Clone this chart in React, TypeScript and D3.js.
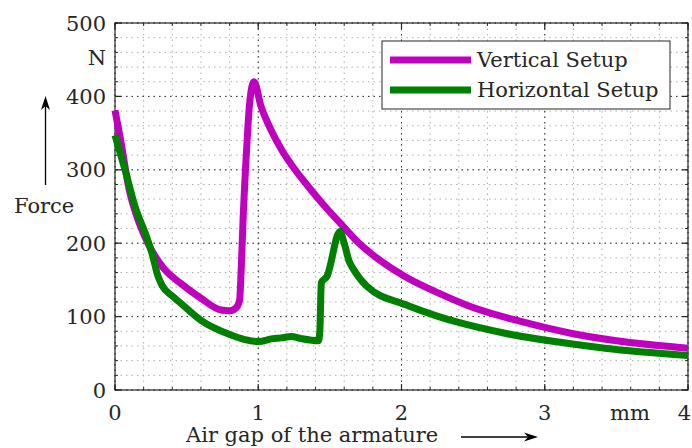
import React from "react";
import * as d3 from "d3";

const vertX = [0, 0.035, 0.1, 0.17, 0.23, 0.33, 0.46, 0.6, 0.74, 0.8, 0.845, 0.87, 0.88, 0.894, 0.917, 0.94, 0.97, 1.02, 1.09, 1.164, 1.257, 1.35, 1.466, 1.583, 1.72, 1.8, 2.03, 2.26, 2.49, 2.84, 3.19, 3.54, 4.0];
const vertF = [381, 345, 272, 227, 200, 168, 145, 125, 109, 108, 112, 123, 160, 232, 322, 391, 420, 386, 354, 327, 300, 277, 250, 225, 197, 184, 154, 132, 113, 93, 77, 66, 57];

const horzX = [0, 0.07, 0.14, 0.22, 0.26, 0.3, 0.33, 0.4, 0.46, 0.6, 0.81, 0.9, 1.0, 1.1, 1.16, 1.23, 1.3, 1.42, 1.43, 1.44, 1.48, 1.57, 1.6, 1.635, 1.66, 1.76, 2.03, 2.26, 2.38, 2.73, 3.07, 3.42, 4.0];
const horzF = [347, 300, 250, 209, 185, 155, 142, 128, 118, 95, 75, 69, 66, 70, 71, 73, 70, 67, 80, 146, 155, 216, 200, 175, 166, 141, 116, 100, 93, 77, 66, 57, 47];

const xTicks = [0, 1, 2, 3, 4];
const yTicks = [0, 100, 200, 300, 400, 500];
const seriesNames = ["Vertical Setup", "Horizontal Setup"];
const seriesColors = ["#bf00bf", "#008000"];

const W = 692, H = 448;
const L = 115, R = 688, T = 23, B = 390;
const FONT = "DejaVu Serif";
const TXT = "#262626";

export default function App() {
  const x = d3.scaleLinear().domain([0, 4]).range([L, R]);
  const y = d3.scaleLinear().domain([0, 500]).range([B, T]);
  const minorX = d3.range(0, 4.0001, 0.2);
  const minorY = d3.range(0, 500.001, 20);
  const line = d3.line<[number, number]>().x(d => x(d[0])).y(d => y(d[1])).curve(d3.curveMonotoneX);
  const vData = vertX.map((v, i) => [v, vertF[i]] as [number, number]);
  const hData = horzX.map((v, i) => [v, horzF[i]] as [number, number]);

  return (
    <svg width={W} height={H} style={{ position: "absolute", left: 0, top: 0, background: "#fff" }}>
      <rect x={0} y={0} width={W} height={H} fill="#fff" />
      {/* minor grid */}
      {minorX.map((v, i) => (
        <line key={"mx" + i} x1={x(v)} x2={x(v)} y1={T} y2={B} stroke="#b0b0b0" strokeWidth={1} strokeDasharray="1.5,4" />
      ))}
      {minorY.map((v, i) => (
        <line key={"my" + i} x1={L} x2={R} y1={y(v)} y2={y(v)} stroke="#b0b0b0" strokeWidth={1} strokeDasharray="1.5,4" />
      ))}
      {/* major grid */}
      {xTicks.map((v, i) => (
        <line key={"gx" + i} x1={x(v)} x2={x(v)} y1={T} y2={B} stroke="#333" strokeWidth={1} strokeDasharray="1.5,4" />
      ))}
      {yTicks.map((v, i) => (
        <line key={"gy" + i} x1={L} x2={R} y1={y(v)} y2={y(v)} stroke="#333" strokeWidth={1} strokeDasharray="1.5,4" />
      ))}
      {/* box */}
      <rect x={L} y={T} width={R - L} height={B - T} fill="none" stroke={TXT} strokeWidth={1.2} />
      {/* minor ticks */}
      {minorX.map((v, i) => (
        <g key={"tmx" + i}>
          <line x1={x(v)} x2={x(v)} y1={B} y2={B - 3} stroke={TXT} />
          <line x1={x(v)} x2={x(v)} y1={T} y2={T + 3} stroke={TXT} />
        </g>
      ))}
      {minorY.map((v, i) => (
        <g key={"tmy" + i}>
          <line x1={L} x2={L + 3} y1={y(v)} y2={y(v)} stroke={TXT} />
          <line x1={R} x2={R - 3} y1={y(v)} y2={y(v)} stroke={TXT} />
        </g>
      ))}
      {/* major ticks */}
      {xTicks.map((v, i) => (
        <g key={"tx" + i}>
          <line x1={x(v)} x2={x(v)} y1={B} y2={B - 6} stroke={TXT} strokeWidth={1.2} />
          <line x1={x(v)} x2={x(v)} y1={T} y2={T + 6} stroke={TXT} strokeWidth={1.2} />
        </g>
      ))}
      {yTicks.map((v, i) => (
        <g key={"ty" + i}>
          <line x1={L} x2={L + 6} y1={y(v)} y2={y(v)} stroke={TXT} strokeWidth={1.2} />
          <line x1={R} x2={R - 6} y1={y(v)} y2={y(v)} stroke={TXT} strokeWidth={1.2} />
        </g>
      ))}
      {/* curves */}
      <path d={line(vData) || ""} fill="none" stroke={seriesColors[0]} strokeWidth={7} strokeLinejoin="round" />
      <path d={line(hData) || ""} fill="none" stroke={seriesColors[1]} strokeWidth={7} strokeLinejoin="round" />
      {/* tick labels */}
      {xTicks.map((v, i) => (
        <text key={"lx" + i} x={i === xTicks.length - 1 ? 691 : x(v)} y={420} textAnchor={i === xTicks.length - 1 ? "end" : "middle"} fontFamily={FONT} fontSize={21} fill={TXT}>{v}</text>
      ))}
      {yTicks.map((v, i) => (
        <text key={"ly" + i} x={106} y={y(v) + 7.5} textAnchor="end" fontFamily={FONT} fontSize={21} fill={TXT}>{v}</text>
      ))}
      {/* units */}
      <text x={630} y={420} textAnchor="middle" fontFamily={FONT} fontSize={21} fill={TXT}>mm</text>
      <text x={97} y={65} textAnchor="middle" fontFamily={FONT} fontSize={21} fill={TXT}>N</text>
      {/* axis titles */}
      <text x={14} y={213} fontFamily={FONT} fontSize={21} fill={TXT}>Force</text>
      <line x1={45.5} x2={45.5} y1={185} y2={106} stroke="#000" strokeWidth={1.3} />
      <path d="M45.5,96 L41,110 L45.5,106 L50,110 Z" fill="#000" />
      <text x={186} y={442} fontFamily={FONT} fontSize={21} fill={TXT}>Air gap of the armature</text>
      <line x1={461} x2={528} y1={437} y2={437} stroke="#000" strokeWidth={1.3} />
      <path d="M538,437 L524,432.5 L528,437 L524,441.5 Z" fill="#000" />
      {/* legend */}
      <rect x={382} y={41} width={288} height={68} fill="#fff" stroke={TXT} strokeWidth={1} />
      {seriesNames.map((n, i) => (
        <g key={"lg" + i}>
          <line x1={390} x2={471} y1={60 + i * 30} y2={60 + i * 30} stroke={seriesColors[i]} strokeWidth={7} />
          <text x={477} y={66.5 + i * 30} fontFamily={FONT} fontSize={21} fill={TXT}>{n}</text>
        </g>
      ))}
    </svg>
  );
}
